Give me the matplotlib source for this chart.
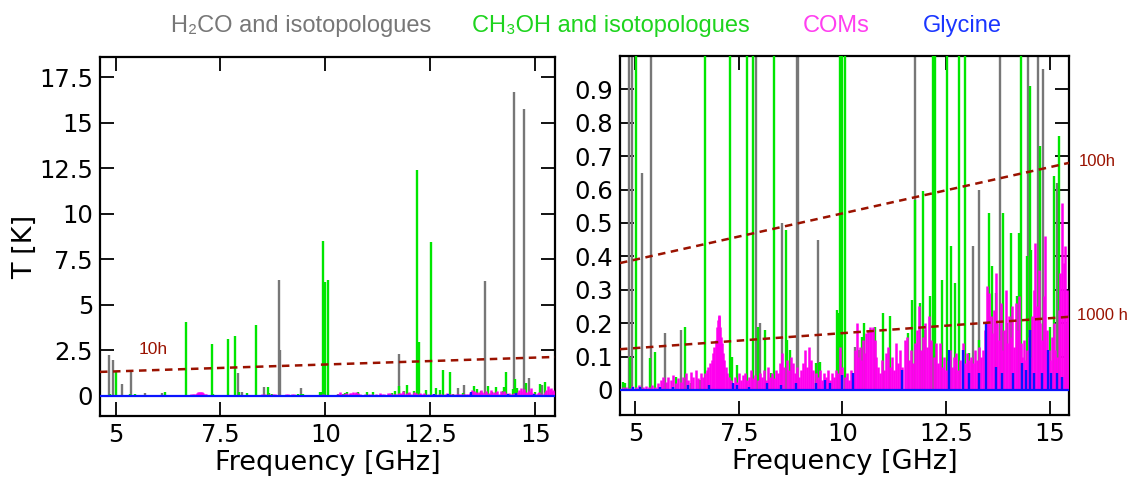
import numpy as np
import matplotlib
matplotlib.use("Agg")
import matplotlib.pyplot as plt
from matplotlib.ticker import FuncFormatter, MultipleLocator

# line catalogue: frequency [GHz] and peak brightness temperature [K]
h2co_freq = [4.84, 4.93, 5.15, 5.37, 5.71, 6.11, 7.91, 8.02, 8.53, 8.90, 8.93,
             9.41, 10.30, 11.76, 13.16, 13.30, 13.80, 14.49, 14.73, 14.85, 15.17]
h2co_T = [2.23, 2.00, 0.65, 1.41, 0.17, 0.18, 1.26, 0.20, 0.50, 6.34, 2.54,
          0.45, 0.13, 2.29, 0.43, 0.60, 6.29, 16.69, 15.76, 0.96, 0.62]

ch3oh_freq = [4.70, 4.76, 4.87, 5.01, 5.35, 5.47, 5.75, 5.99, 6.19, 6.35, 6.55,
              6.68, 7.29, 7.33, 7.45, 7.69, 7.85, 7.95, 8.14, 8.27, 8.35, 8.63,
              8.66, 8.73, 9.35, 9.43, 9.47, 9.88, 9.91, 9.95, 10.00, 10.07,
              10.41, 10.47, 10.52, 10.78, 10.98, 11.14, 11.59, 11.67, 11.76,
              11.87, 11.95, 11.99, 12.11, 12.19, 12.23, 12.40, 12.52, 12.63,
              12.72, 12.81, 12.97, 13.05, 13.29, 13.54, 13.62, 13.70, 13.88,
              13.98, 14.06, 14.22, 14.26, 14.30, 14.46, 14.52, 14.56, 14.78,
              15.00, 15.11, 15.24, 15.42]
ch3oh_T = [0.025, 0.02, 0.10, 1.32, 0.095, 0.115, 0.02, 0.04, 0.19, 0.02, 0.03,
           4.06, 2.83, 0.10, 0.075, 3.13, 3.29, 0.19, 0.18, 0.05, 3.88, 0.48,
           0.15, 0.12, 0.08, 0.08, 0.085, 0.24, 0.23, 8.52, 6.25, 6.38,
           0.12, 0.16, 0.20, 0.19, 0.23, 0.22, 0.17, 0.27, 0.57,
           0.26, 0.595, 0.18, 0.28, 12.41, 2.94, 0.33, 8.43, 0.43,
           0.32, 1.44, 1.32, 0.11, 0.15, 0.53, 0.37, 0.29, 0.53,
           0.20, 0.47, 0.28, 0.47, 1.32, 0.40, 0.91, 0.42, 0.73,
           0.19, 0.64, 0.76, 0.20]

coms_freq = [4.70, 4.78, 4.85, 4.93, 5.02, 5.10, 5.18, 5.25, 5.33, 5.40, 5.48,
             5.55, 5.62, 5.68, 5.74, 5.80, 5.86, 5.92, 5.98, 6.04, 6.10, 6.16,
             6.22, 6.28, 6.34, 6.40, 6.46, 6.52, 6.58, 6.63,
             6.68, 6.72, 6.76, 6.80, 6.84, 6.88, 6.91, 6.94, 6.97, 6.99, 7.01,
             7.03, 7.05, 7.07, 7.09, 7.12, 7.15, 7.18, 7.22, 7.26, 7.30,
             7.35, 7.40, 7.45, 7.50, 7.55, 7.60, 7.65, 7.70, 7.75, 7.80, 7.85,
             7.90, 7.95, 8.00, 8.05, 8.10, 8.15, 8.20, 8.25, 8.30, 8.35, 8.40,
             8.45, 8.50, 8.55, 8.60, 8.65, 8.70, 8.75, 8.80, 8.85, 8.90, 8.95,
             9.00, 9.05, 9.10, 9.15, 9.20, 9.25, 9.30, 9.35, 9.40, 9.45, 9.50,
             9.55, 9.60, 9.65, 9.70, 9.75, 9.80, 9.85, 9.90, 9.95, 10.00, 10.05,
             10.10, 10.15, 10.20, 10.25, 10.30, 10.34, 10.38, 10.42, 10.46,
             10.50, 10.54, 10.58, 10.62, 10.66, 10.70, 10.74, 10.78, 10.82,
             10.86, 10.90, 10.95, 11.00, 11.05, 11.10, 11.15, 11.20, 11.25,
             11.30, 11.35, 11.40, 11.45, 11.50, 11.55, 11.60, 11.65, 11.70,
             11.75, 11.80, 11.85, 11.90, 11.95, 12.00, 12.05, 12.10, 12.15,
             12.20, 12.25, 12.30, 12.35, 12.40, 12.45, 12.50, 12.55, 12.60,
             12.65, 12.70, 12.75, 12.80, 12.85, 12.90, 12.95, 13.00, 13.05,
             13.10, 13.15, 13.20, 13.25, 13.30, 13.35, 13.40, 13.45, 13.50,
             13.54, 13.58, 13.62, 13.66, 13.70, 13.74, 13.78, 13.82, 13.86,
             13.90, 13.94, 13.98, 14.02, 14.06, 14.10, 14.14, 14.18, 14.22,
             14.26, 14.30, 14.34, 14.38, 14.42, 14.46, 14.50, 14.54, 14.58,
             14.62, 14.66, 14.70, 14.74, 14.78, 14.82, 14.86, 14.90, 14.94,
             14.98, 15.02, 15.06, 15.10, 15.14, 15.18, 15.22, 15.26, 15.30,
             15.34, 15.38, 15.42, 15.46]
coms_T = [0.008, 0.010, 0.006, 0.012, 0.010, 0.015, 0.008, 0.012, 0.010, 0.015, 0.010,
          0.020, 0.030, 0.040, 0.025, 0.040, 0.030, 0.045, 0.020, 0.035, 0.025, 0.040,
          0.050, 0.030, 0.055, 0.040, 0.060, 0.035, 0.050, 0.040,
          0.050, 0.060, 0.070, 0.080, 0.090, 0.110, 0.130, 0.150, 0.190, 0.210, 0.225,
          0.220, 0.190, 0.160, 0.140, 0.110, 0.090, 0.070, 0.050, 0.040, 0.030,
          0.020, 0.040, 0.025, 0.050, 0.030, 0.045, 0.050, 0.030, 0.040, 0.060, 0.035,
          0.045, 0.030, 0.050, 0.040, 0.060, 0.030, 0.070, 0.040, 0.050, 0.035, 0.060,
          0.050, 0.080, 0.110, 0.070, 0.090, 0.060, 0.100, 0.080, 0.050, 0.070, 0.040,
          0.060, 0.080, 0.120, 0.070, 0.130, 0.090, 0.060, 0.050, 0.040, 0.060, 0.030,
          0.050, 0.040, 0.060, 0.030, 0.050, 0.040, 0.060, 0.050, 0.130, 0.070, 0.040,
          0.050, 0.030, 0.060, 0.050, 0.120, 0.200, 0.100, 0.130, 0.090,
          0.150, 0.110, 0.170, 0.180, 0.190, 0.180, 0.190, 0.150, 0.100,
          0.070, 0.050, 0.090, 0.060, 0.110, 0.130, 0.070, 0.100, 0.060,
          0.140, 0.080, 0.120, 0.070, 0.150, 0.160, 0.090, 0.120, 0.080,
          0.140, 0.180, 0.250, 0.120, 0.160, 0.200, 0.130, 0.220, 0.150,
          0.100, 0.140, 0.080, 0.140, 0.070, 0.100, 0.060, 0.090, 0.120,
          0.070, 0.100, 0.110, 0.060, 0.090, 0.140, 0.080, 0.110, 0.090,
          0.100, 0.080, 0.120, 0.090, 0.130, 0.100, 0.120, 0.180, 0.310,
          0.290, 0.220, 0.170, 0.240, 0.350, 0.200, 0.150, 0.260, 0.120,
          0.180, 0.300, 0.140, 0.220, 0.160, 0.250, 0.130, 0.260, 0.180,
          0.280, 0.140, 0.100, 0.150, 0.090, 0.120, 0.160, 0.100, 0.220,
          0.300, 0.440, 0.250, 0.360, 0.200, 0.150, 0.280, 0.460, 0.180,
          0.120, 0.090, 0.160, 0.200, 0.120, 0.100, 0.240, 0.350, 0.560,
          0.380, 0.430, 0.300, 0.220]

gly_freq = [4.95, 5.11, 5.59, 5.91, 6.27, 6.79, 7.37, 7.45, 7.75, 8.19, 8.51,
            8.87, 9.35, 9.57, 9.69, 10.00, 10.25, 11.45, 12.58, 12.92, 13.05,
            13.29, 13.46, 13.70, 13.86, 14.12, 14.34, 14.42, 14.54, 14.62,
            14.83, 14.96, 15.04, 15.17, 15.30]
gly_T = [0.008, 0.010, 0.010, 0.010, 0.015, 0.015, 0.020, 0.015, 0.010, 0.020, 0.015,
         0.020, 0.020, 0.030, 0.020, 0.045, 0.050, 0.060, 0.120, 0.120, 0.050,
         0.050, 0.200, 0.070, 0.050, 0.050, 0.080, 0.060, 0.180, 0.050,
         0.050, 0.120, 0.050, 0.050, 0.040]

# 3 sigma sensitivity for different integration times (band edges)
noise_freq = [4.63, 15.47]
noise_10h = [1.32, 2.14]
noise_100h = [0.38, 0.68]
noise_1000h = [0.122, 0.219]

C_H2CO = "#777777"
C_CH3OH = "#00e600"
C_COMS = "#ff00ee"
C_GLY = "#0a14ff"
C_NOISE = "#9a1200"

XLIM = (4.63, 15.47)
SANS = ["Liberation Sans", "DejaVu Sans"]


def draw_spectrum(ax):
    lw = 1.7
    ax.vlines(h2co_freq, 0, h2co_T, color=C_H2CO, lw=lw, zorder=2)
    ax.vlines(ch3oh_freq, 0, ch3oh_T, color=C_CH3OH, lw=lw, zorder=3)
    ax.vlines(coms_freq, 0, coms_T, color=C_COMS, lw=1.8, zorder=4)
    ax.axhline(0, color=C_GLY, lw=1.6, zorder=5)
    ax.vlines(gly_freq, 0, gly_T, color=C_GLY, lw=lw, zorder=5)


def style_axes(ax):
    ax.set_xlim(*XLIM)
    ax.xaxis.set_major_locator(MultipleLocator(2.5))
    fmt = FuncFormatter(lambda v, p: "%g" % v)
    ax.xaxis.set_major_formatter(fmt)
    ax.yaxis.set_major_formatter(fmt)
    ax.tick_params(direction="in", length=10, width=1.3, top=True, right=True,
                   labelsize=17.5, pad=5)
    for sp in ax.spines.values():
        sp.set_linewidth(1.6)
    ax.set_xlabel("Frequency [GHz]", fontsize=19.5, labelpad=2)


fig = plt.figure(figsize=(11.29, 4.83), dpi=100)
ax1 = fig.add_axes([100 / 1129, 67 / 483, 455 / 1129, 359 / 483])
ax2 = fig.add_axes([620 / 1129, 68 / 483, 449 / 1129, 359 / 483])

# full scale
draw_spectrum(ax1)
ax1.plot(noise_freq, noise_10h, color=C_NOISE, ls=(0, (3, 2.2)), lw=1.8, zorder=6)
ax1.text(5.55, 2.55, "10h", color=C_NOISE, fontsize=12.5, va="center",
         family=SANS)
ax1.set_ylim(-1.1, 18.6)
ax1.yaxis.set_major_locator(MultipleLocator(2.5))
style_axes(ax1)
ax1.set_ylabel("T [K]", fontsize=19.5)
ax1.yaxis.set_label_coords(-0.135, 0.47)

# zoom on the weak lines
draw_spectrum(ax2)
ax2.plot(noise_freq, noise_100h, color=C_NOISE, ls=(0, (3, 2.2)), lw=1.8, zorder=6)
ax2.plot(noise_freq, noise_1000h, color=C_NOISE, ls=(0, (3, 2.2)), lw=1.8, zorder=6)
ax2.text(15.7, noise_100h[1] + 0.005, "100h", color=C_NOISE, fontsize=12,
         va="center", clip_on=False, family=SANS)
ax2.text(15.66, noise_1000h[1] + 0.005, "1000 h", color=C_NOISE, fontsize=12,
         va="center", clip_on=False, family=SANS)
ax2.set_ylim(-0.075, 1.0)
ax2.set_yticks(np.arange(0, 0.95, 0.1))
style_axes(ax2)

# species key along the top
key = [("H₂CO and isotopologues", C_H2CO, 301),
       ("CH₃OH and isotopologues", "#1ed41e", 611),
       ("COMs", "#ff3ff0", 836),
       ("Glycine", "#1a36ff", 962)]
for label, col, xc in key:
    fig.text(xc / 1129, 1 - 26 / 483, label, color=col, fontsize=17,
             ha="center", va="center", family=SANS)

fig.savefig("out.png", dpi=100)
